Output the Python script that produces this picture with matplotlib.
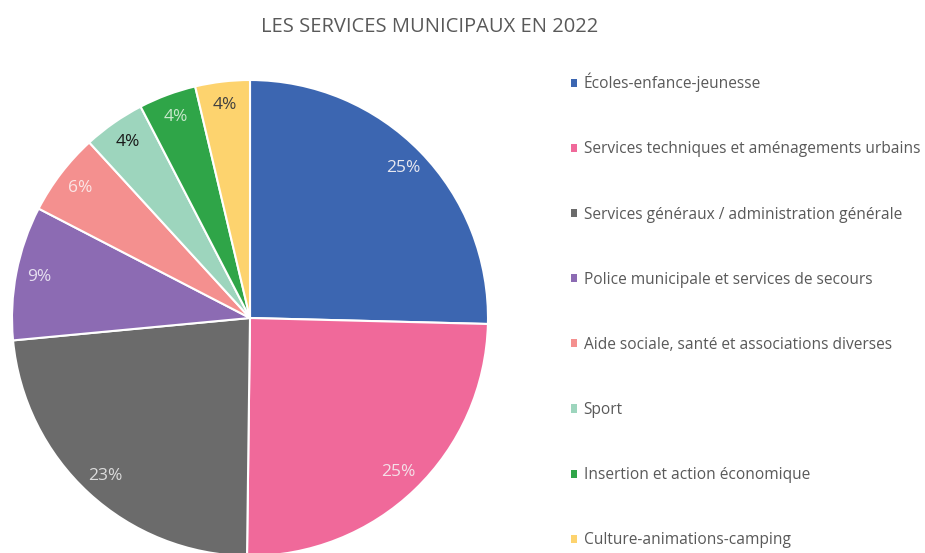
import matplotlib
matplotlib.use("Agg")
import matplotlib.pyplot as plt
from matplotlib.patches import Patch

categories = [
    "Écoles-enfance-jeunesse",
    "Services techniques et aménagements urbains",
    "Services généraux / administration générale",
    "Police municipale et services de secours",
    "Aide sociale, santé et associations diverses",
    "Sport",
    "Insertion et action économique",
    "Culture-animations-camping",
]
values = [25.4, 24.8, 23.3, 9.1, 5.6, 4.2, 3.9, 3.7]
colors = ["#3c66b1", "#f0699a", "#6b6b6b", "#8c6bb3", "#f4908f", "#9dd5bd", "#2fa548", "#fdd36e"]
label_colors = ["#e8e8f0", "#f4e0e8", "#dcdcdc", "#e6e0f0", "#fbe6e6", "#1a1a1a", "#c8e8cc", "#404040"]
title = "LES SERVICES MUNICIPAUX EN 2022"

plt.rcParams['font.family'] = ['Open Sans', 'DejaVu Sans']

W, H = 925, 553
fig = plt.figure(figsize=(W / 100, H / 100), dpi=100)
cx, cy, r = 250, 318, 238
ax = fig.add_axes([(cx - r) / W, (H - cy - r) / H, 2 * r / W, 2 * r / H])
wedges, texts, autotexts = ax.pie(
    values, colors=colors, startangle=90, counterclock=False,
    autopct='%.0f%%', pctdistance=0.9, radius=1,
    wedgeprops=dict(edgecolor='white', linewidth=1.5),
    textprops=dict(fontsize=12.5),
)
for t, c in zip(autotexts, label_colors):
    t.set_color(c)
ax.set_xlim(-1, 1)
ax.set_ylim(-1, 1)
ax.set_aspect('equal')
ax.axis('off')

fig.text(430 / W, 1 - 27 / H, title, ha='center', va='center', fontsize=14.5, color='#595959')

handles = [Patch(facecolor=c, edgecolor='none') for c in colors]
leg = fig.legend(handles, categories, loc='upper left', bbox_to_anchor=(563 / W, 1 - 65 / H),
                 frameon=False, fontsize=11.2, labelcolor='#595959',
                 handlelength=0.42, handleheight=0.42, handletextpad=0.4,
                 labelspacing=3.16, borderpad=0)
fig.savefig("out.png", dpi=100, facecolor='white')
